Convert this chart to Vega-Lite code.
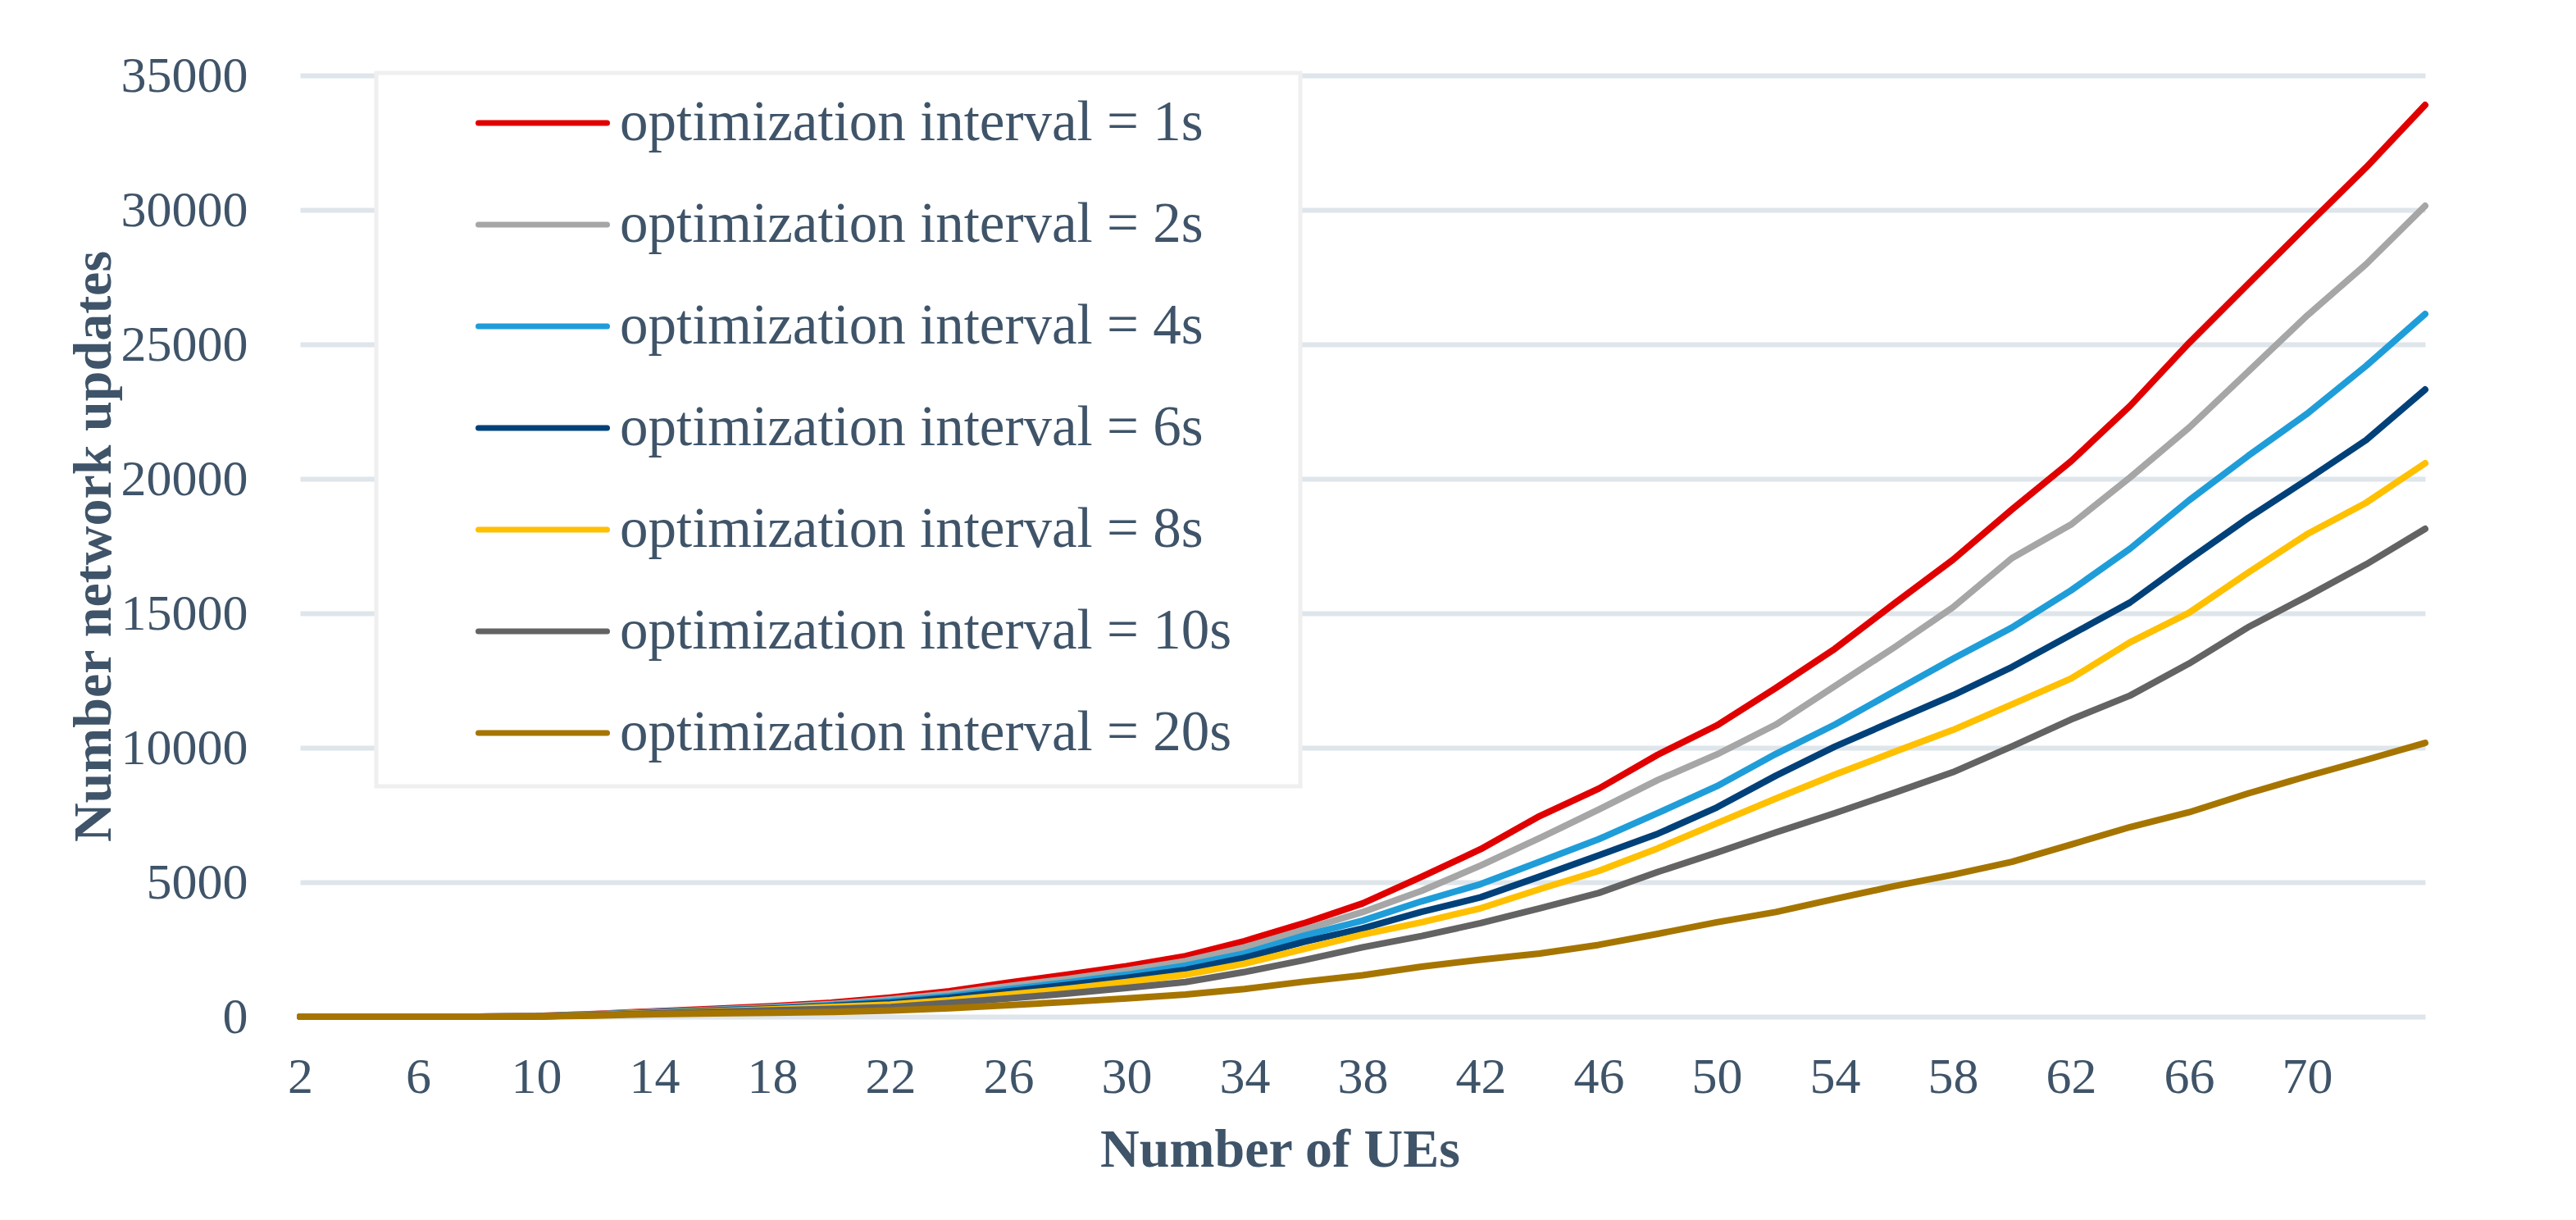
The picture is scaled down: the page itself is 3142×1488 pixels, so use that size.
{
  "$schema": "https://vega.github.io/schema/vega-lite/v6.json",
  "width": 2592,
  "height": 1148,
  "autosize": {"type": "none"},
  "padding": {"left": 366, "top": 92, "right": 184, "bottom": 248},
  "background": "white",
  "data": {
    "values": [
      {"n": 2, "optimization interval = 1s": 0, "optimization interval = 2s": 0, "optimization interval = 4s": 0, "optimization interval = 6s": 0, "optimization interval = 8s": 0, "optimization interval = 10s": 0, "optimization interval = 20s": 0},
      {"n": 4, "optimization interval = 1s": 0, "optimization interval = 2s": 0, "optimization interval = 4s": 0, "optimization interval = 6s": 0, "optimization interval = 8s": 0, "optimization interval = 10s": 0, "optimization interval = 20s": 0},
      {"n": 6, "optimization interval = 1s": 0, "optimization interval = 2s": 0, "optimization interval = 4s": 0, "optimization interval = 6s": 0, "optimization interval = 8s": 0, "optimization interval = 10s": 0, "optimization interval = 20s": 0},
      {"n": 8, "optimization interval = 1s": 0, "optimization interval = 2s": 0, "optimization interval = 4s": 0, "optimization interval = 6s": 0, "optimization interval = 8s": 0, "optimization interval = 10s": 0, "optimization interval = 20s": 0},
      {"n": 10, "optimization interval = 1s": 20, "optimization interval = 2s": 15, "optimization interval = 4s": 12, "optimization interval = 6s": 10, "optimization interval = 8s": 10, "optimization interval = 10s": 8, "optimization interval = 20s": 5},
      {"n": 12, "optimization interval = 1s": 100, "optimization interval = 2s": 90, "optimization interval = 4s": 80, "optimization interval = 6s": 75, "optimization interval = 8s": 70, "optimization interval = 10s": 60, "optimization interval = 20s": 40},
      {"n": 14, "optimization interval = 1s": 200, "optimization interval = 2s": 180, "optimization interval = 4s": 165, "optimization interval = 6s": 150, "optimization interval = 8s": 140, "optimization interval = 10s": 120, "optimization interval = 20s": 90},
      {"n": 16, "optimization interval = 1s": 290, "optimization interval = 2s": 260, "optimization interval = 4s": 240, "optimization interval = 6s": 225, "optimization interval = 8s": 205, "optimization interval = 10s": 180, "optimization interval = 20s": 120},
      {"n": 18, "optimization interval = 1s": 390, "optimization interval = 2s": 350, "optimization interval = 4s": 320, "optimization interval = 6s": 300, "optimization interval = 8s": 275, "optimization interval = 10s": 240, "optimization interval = 20s": 145},
      {"n": 20, "optimization interval = 1s": 520, "optimization interval = 2s": 470, "optimization interval = 4s": 430, "optimization interval = 6s": 400, "optimization interval = 8s": 365, "optimization interval = 10s": 290, "optimization interval = 20s": 175},
      {"n": 22, "optimization interval = 1s": 710, "optimization interval = 2s": 640, "optimization interval = 4s": 570, "optimization interval = 6s": 520, "optimization interval = 8s": 450, "optimization interval = 10s": 355, "optimization interval = 20s": 225},
      {"n": 24, "optimization interval = 1s": 945, "optimization interval = 2s": 855, "optimization interval = 4s": 760, "optimization interval = 6s": 700, "optimization interval = 8s": 610, "optimization interval = 10s": 510, "optimization interval = 20s": 315},
      {"n": 26, "optimization interval = 1s": 1270, "optimization interval = 2s": 1140, "optimization interval = 4s": 1020, "optimization interval = 6s": 940, "optimization interval = 8s": 820, "optimization interval = 10s": 680, "optimization interval = 20s": 430},
      {"n": 28, "optimization interval = 1s": 1560, "optimization interval = 2s": 1400, "optimization interval = 4s": 1275, "optimization interval = 6s": 1185, "optimization interval = 8s": 1035, "optimization interval = 10s": 860, "optimization interval = 20s": 545},
      {"n": 30, "optimization interval = 1s": 1880, "optimization interval = 2s": 1715, "optimization interval = 4s": 1560, "optimization interval = 6s": 1445, "optimization interval = 8s": 1290, "optimization interval = 10s": 1070, "optimization interval = 20s": 675},
      {"n": 32, "optimization interval = 1s": 2250, "optimization interval = 2s": 2070, "optimization interval = 4s": 1900, "optimization interval = 6s": 1740, "optimization interval = 8s": 1560, "optimization interval = 10s": 1290, "optimization interval = 20s": 820},
      {"n": 34, "optimization interval = 1s": 2810, "optimization interval = 2s": 2580, "optimization interval = 4s": 2350, "optimization interval = 6s": 2190, "optimization interval = 8s": 1970, "optimization interval = 10s": 1660, "optimization interval = 20s": 1030},
      {"n": 36, "optimization interval = 1s": 3470, "optimization interval = 2s": 3230, "optimization interval = 4s": 3010, "optimization interval = 6s": 2780, "optimization interval = 8s": 2510, "optimization interval = 10s": 2100, "optimization interval = 20s": 1300},
      {"n": 38, "optimization interval = 1s": 4210, "optimization interval = 2s": 3890, "optimization interval = 4s": 3570, "optimization interval = 6s": 3280, "optimization interval = 8s": 3050, "optimization interval = 10s": 2580, "optimization interval = 20s": 1540},
      {"n": 40, "optimization interval = 1s": 5200, "optimization interval = 2s": 4680, "optimization interval = 4s": 4290, "optimization interval = 6s": 3900, "optimization interval = 8s": 3510, "optimization interval = 10s": 3000, "optimization interval = 20s": 1860},
      {"n": 42, "optimization interval = 1s": 6230, "optimization interval = 2s": 5620, "optimization interval = 4s": 4930, "optimization interval = 6s": 4440, "optimization interval = 8s": 4030, "optimization interval = 10s": 3480, "optimization interval = 20s": 2120},
      {"n": 44, "optimization interval = 1s": 7460, "optimization interval = 2s": 6640, "optimization interval = 4s": 5760, "optimization interval = 6s": 5210, "optimization interval = 8s": 4740, "optimization interval = 10s": 4030, "optimization interval = 20s": 2350},
      {"n": 46, "optimization interval = 1s": 8480, "optimization interval = 2s": 7700, "optimization interval = 4s": 6600, "optimization interval = 6s": 6000, "optimization interval = 8s": 5420, "optimization interval = 10s": 4600, "optimization interval = 20s": 2670},
      {"n": 48, "optimization interval = 1s": 9740, "optimization interval = 2s": 8800, "optimization interval = 4s": 7570, "optimization interval = 6s": 6800, "optimization interval = 8s": 6260, "optimization interval = 10s": 5380, "optimization interval = 20s": 3080},
      {"n": 50, "optimization interval = 1s": 10830, "optimization interval = 2s": 9750, "optimization interval = 4s": 8570, "optimization interval = 6s": 7780, "optimization interval = 8s": 7190, "optimization interval = 10s": 6100, "optimization interval = 20s": 3510},
      {"n": 52, "optimization interval = 1s": 12220, "optimization interval = 2s": 10860, "optimization interval = 4s": 9770, "optimization interval = 6s": 8960, "optimization interval = 8s": 8110, "optimization interval = 10s": 6850, "optimization interval = 20s": 3890},
      {"n": 54, "optimization interval = 1s": 13680, "optimization interval = 2s": 12290, "optimization interval = 4s": 10860, "optimization interval = 6s": 10040, "optimization interval = 8s": 9000, "optimization interval = 10s": 7570, "optimization interval = 20s": 4380},
      {"n": 56, "optimization interval = 1s": 15350, "optimization interval = 2s": 13720, "optimization interval = 4s": 12090, "optimization interval = 6s": 11000, "optimization interval = 8s": 9840, "optimization interval = 10s": 8320, "optimization interval = 20s": 4850},
      {"n": 58, "optimization interval = 1s": 16990, "optimization interval = 2s": 15220, "optimization interval = 4s": 13310, "optimization interval = 6s": 11950, "optimization interval = 8s": 10660, "optimization interval = 10s": 9090, "optimization interval = 20s": 5280},
      {"n": 60, "optimization interval = 1s": 18860, "optimization interval = 2s": 17050, "optimization interval = 4s": 14470, "optimization interval = 6s": 13000, "optimization interval = 8s": 11610, "optimization interval = 10s": 10050, "optimization interval = 20s": 5760},
      {"n": 62, "optimization interval = 1s": 20650, "optimization interval = 2s": 18300, "optimization interval = 4s": 15850, "optimization interval = 6s": 14200, "optimization interval = 8s": 12570, "optimization interval = 10s": 11050, "optimization interval = 20s": 6400},
      {"n": 64, "optimization interval = 1s": 22710, "optimization interval = 2s": 20050, "optimization interval = 4s": 17400, "optimization interval = 6s": 15400, "optimization interval = 8s": 13920, "optimization interval = 10s": 11940, "optimization interval = 20s": 7050},
      {"n": 66, "optimization interval = 1s": 25050, "optimization interval = 2s": 21900, "optimization interval = 4s": 19200, "optimization interval = 6s": 17000, "optimization interval = 8s": 15020, "optimization interval = 10s": 13130, "optimization interval = 20s": 7600},
      {"n": 68, "optimization interval = 1s": 27240, "optimization interval = 2s": 23980, "optimization interval = 4s": 20850, "optimization interval = 6s": 18540, "optimization interval = 8s": 16510, "optimization interval = 10s": 14480, "optimization interval = 20s": 8300},
      {"n": 70, "optimization interval = 1s": 29420, "optimization interval = 2s": 26070, "optimization interval = 4s": 22420, "optimization interval = 6s": 19970, "optimization interval = 8s": 17940, "optimization interval = 10s": 15630, "optimization interval = 20s": 8940},
      {"n": 72, "optimization interval = 1s": 31580, "optimization interval = 2s": 27980, "optimization interval = 4s": 24200, "optimization interval = 6s": 21440, "optimization interval = 8s": 19110, "optimization interval = 10s": 16820, "optimization interval = 20s": 9550},
      {"n": 74, "optimization interval = 1s": 33900, "optimization interval = 2s": 30150, "optimization interval = 4s": 26130, "optimization interval = 6s": 23320, "optimization interval = 8s": 20580, "optimization interval = 10s": 18140, "optimization interval = 20s": 10180}
    ]
  },
  "transform": [
    {"fold": ["optimization interval = 1s", "optimization interval = 2s", "optimization interval = 4s", "optimization interval = 6s", "optimization interval = 8s", "optimization interval = 10s", "optimization interval = 20s"], "as": ["series", "value"]}
  ],
  "mark": {"type": "line", "strokeWidth": 8, "strokeCap": "round", "strokeJoin": "round"},
  "encoding": {
    "x": {
      "field": "n",
      "type": "quantitative",
      "scale": {"domain": [2, 74], "nice": false, "zero": false},
      "axis": {
        "values": [2, 6, 10, 14, 18, 22, 26, 30, 34, 38, 42, 46, 50, 54, 58, 62, 66, 70],
        "title": "Number of UEs",
        "grid": false,
        "labelPadding": 43,
        "labelFlush": false,
        "labelOverlap": false,
        "titleX": 1195,
        "titleY": 130,
        "titleAnchor": "start",
        "titleAlign": "center",
        "titleBaseline": "top"
      }
    },
    "y": {
      "field": "value",
      "type": "quantitative",
      "scale": {"domain": [0, 35000], "nice": false},
      "axis": {
        "values": [0, 5000, 10000, 15000, 20000, 25000, 30000, 35000],
        "title": "Number network updates",
        "format": "d",
        "labelPadding": 64,
        "titlePadding": 18,
        "labelFlush": false,
        "labelOverlap": false
      }
    },
    "color": {
      "field": "series",
      "type": "nominal",
      "scale": {
        "domain": ["optimization interval = 1s", "optimization interval = 2s", "optimization interval = 4s", "optimization interval = 6s", "optimization interval = 8s", "optimization interval = 10s", "optimization interval = 20s"],
        "range": ["#E00000", "#A6A6A6", "#1F9DD9", "#00417A", "#FFC000", "#636363", "#A67500"]
      },
      "legend": {
        "orient": "none",
        "legendX": 93,
        "legendY": -3,
        "title": " ",
        "titleOrient": "right",
        "titlePadding": 54,
        "titleFontSize": 10,
        "symbolType": "stroke",
        "symbolSize": 24649,
        "symbolStrokeWidth": 7,
        "clipHeight": 62,
        "rowPadding": 55,
        "padding": 30,
        "symbolOffset": 91,
        "labelOffset": 12,
        "labelLimit": 0,
        "fillColor": "white",
        "strokeColor": "#EFEFEF",
        "encode": {
          "legend": {"update": {"strokeWidth": {"value": 5}}},
          "symbols": {"update": {"strokeCap": {"value": "round"}}}
        }
      }
    }
  },
  "config": {
    "view": {"stroke": null},
    "axis": {
      "domain": false,
      "ticks": false,
      "labelFont": "Liberation Serif",
      "labelFontSize": 62,
      "labelColor": "#3F5469",
      "titleFont": "Liberation Serif",
      "titleFontSize": 66,
      "titleFontWeight": "bold",
      "titleColor": "#3F5469",
      "gridColor": "#DEE5EB",
      "gridWidth": 6,
      "gridOpacity": 1
    },
    "legend": {
      "labelFont": "Liberation Serif",
      "labelFontSize": 69,
      "labelColor": "#3F5469"
    }
  }
}
